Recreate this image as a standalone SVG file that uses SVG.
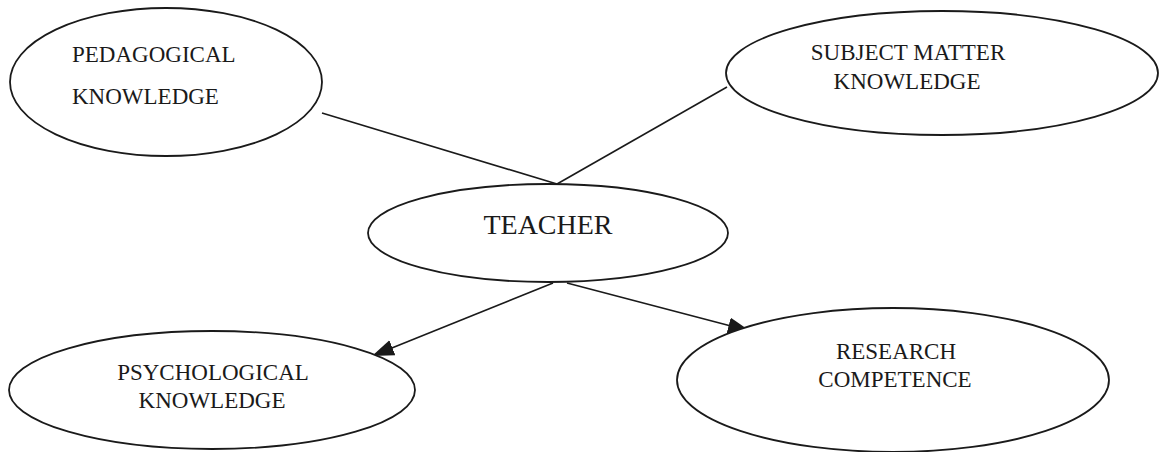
<svg xmlns="http://www.w3.org/2000/svg" width="1162" height="452" viewBox="0 0 1162 452">
<style>
.n{fill:#fff;stroke:#1a1a1a;stroke-width:1.8}
.t{font-family:"Liberation Serif","Times New Roman",serif;font-size:23px;fill:#1a1a1a}
.c{stroke:#1a1a1a;stroke-width:1.6;fill:none}
</style>
<defs>
<marker id="ah" markerUnits="userSpaceOnUse" markerWidth="24" markerHeight="18" refX="22" refY="8" orient="auto">
<path d="M0,0 L22,8 L0,16 Z" fill="#1a1a1a"/>
</marker>
</defs>
<rect width="1162" height="452" fill="#fff"/>
<g id="connectors">
<line class="c" x1="322" y1="113" x2="557" y2="184"/>
<line class="c" x1="727" y1="87" x2="557" y2="184"/>
<line class="c" x1="553" y1="283" x2="372" y2="356" marker-end="url(#ah)"/>
<line class="c" x1="567" y1="283" x2="750" y2="331" marker-end="url(#ah)"/>
</g>
<g id="pedagogical">
<ellipse class="n" cx="166" cy="82" rx="156" ry="74"/>
<text class="t" x="72" y="62">PEDAGOGICAL</text>
<text class="t" x="72" y="104">KNOWLEDGE</text>
</g>
<g id="subject">
<ellipse class="n" cx="942" cy="73" rx="216" ry="62"/>
<text class="t" x="908" y="60" text-anchor="middle">SUBJECT MATTER</text>
<text class="t" x="907" y="89" text-anchor="middle">KNOWLEDGE</text>
</g>
<g id="teacher">
<ellipse class="n" cx="548" cy="233" rx="180" ry="49"/>
<text class="t" x="548" y="234" text-anchor="middle" style="font-size:28px">TEACHER</text>
</g>
<g id="psychological">
<ellipse class="n" cx="212" cy="390" rx="203" ry="59"/>
<text class="t" x="213" y="380" text-anchor="middle">PSYCHOLOGICAL</text>
<text class="t" x="212" y="408" text-anchor="middle">KNOWLEDGE</text>
</g>
<g id="research">
<ellipse class="n" cx="893" cy="380" rx="216" ry="72"/>
<text class="t" x="896" y="359" text-anchor="middle">RESEARCH</text>
<text class="t" x="895" y="387" text-anchor="middle">COMPETENCE</text>
</g>
</svg>
